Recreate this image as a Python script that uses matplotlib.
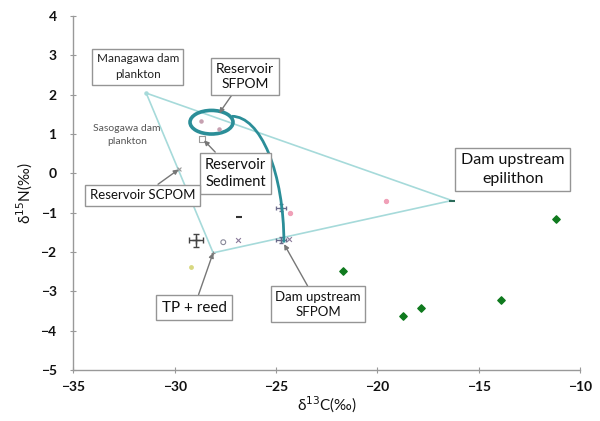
import matplotlib
matplotlib.use("Agg")
import matplotlib.pyplot as plt
from matplotlib.patches import Ellipse, Arc

plt.rcParams['font.family'] = ['Lato', 'DejaVu Sans']

# --- isotope data (d13C, d15N) ---
epilithon_x = [-11.2, -13.9, -17.85, -18.75, -21.7]
epilithon_y = [-1.15, -3.22, -3.42, -3.62, -2.48]

sfpom_res_x = [-28.7, -27.8]
sfpom_res_y = [1.32, 1.14]

sediment_x = [-28.65]
sediment_y = [0.87]

scpom_x = [-29.8]
scpom_y = [0.1]

managawa_x = [-31.4]
managawa_y = [2.04]

epil_mean_x = [-16.33]
epil_mean_y = [-0.69]

pink_x = [-19.6, -24.3]
pink_y = [-0.69, -1.0]

tp_reed_x = [-28.1]
tp_reed_y = [-2.02]

cross_x = [-28.95]
cross_y = [-1.7]
cross_xerr = [0.35]
cross_yerr = [0.17]

circle_x = [-27.6]
circle_y = [-1.75]

xmark_x = [-26.85, -24.35]
xmark_y = [-1.7, -1.68]

dash_x = [-26.8]
dash_y = [-1.1]

yellow_x = [-29.2]
yellow_y = [-2.37]

dam_sfpom_x = [-24.75, -24.75]
dam_sfpom_y = [-0.87, -1.7]
dam_sfpom_xerr = [0.25, 0.25]
dam_sfpom_yerr = [0.08, 0.08]

# mixing triangle vertices
tri_x = [-31.4, -16.33, -28.1, -31.4]
tri_y = [2.04, -0.69, -2.02, 2.04]

fig = plt.figure(figsize=(6.0, 4.21), dpi=100)
ax = fig.add_axes([0.122, 0.121, 0.845, 0.841])

ax.plot(tri_x, tri_y, color='#a6dada', lw=1.2, zorder=2)

ax.scatter(epilithon_x, epilithon_y, marker='D', s=14, color='#0f7a1e', zorder=6)
ax.scatter(sfpom_res_x, sfpom_res_y, marker='o', s=5, color='#c6a0b0', zorder=6)
ax.scatter(sediment_x, sediment_y, marker='s', s=16, facecolor='none', edgecolor='#999999', lw=0.8, zorder=4)
ax.scatter(scpom_x, scpom_y, marker='x', s=8, color='#9a9a9a', lw=0.8, zorder=4)
ax.scatter(managawa_x, managawa_y, marker='o', s=5, color='#a6dada', zorder=4)
ax.scatter(epil_mean_x, epil_mean_y, marker='_', s=20, color='#2b6b5a', lw=1.5, zorder=4)
ax.scatter(pink_x, pink_y, marker='o', s=8, color='#f0a0b8', zorder=4)
ax.scatter(tp_reed_x, tp_reed_y, marker='+', s=10, color='#888888', lw=0.8, zorder=4)
ax.errorbar(cross_x, cross_y, xerr=cross_xerr, yerr=cross_yerr, fmt='+', ms=6,
            color='#444444', elinewidth=1.0, capsize=2, zorder=4)
ax.scatter(circle_x, circle_y, marker='o', s=12, facecolor='none', edgecolor='#8a8a9a', lw=0.8, zorder=4)
ax.scatter(xmark_x, xmark_y, marker='x', s=12, color='#8a7a9a', lw=0.8, zorder=4)
ax.scatter(dash_x, dash_y, marker='_', s=20, color='#333333', lw=1.5, zorder=4)
ax.scatter(yellow_x, yellow_y, marker='o', s=6, color='#d8d880', zorder=4)
ax.errorbar(dam_sfpom_x, dam_sfpom_y, xerr=dam_sfpom_xerr, yerr=dam_sfpom_yerr, fmt='+', ms=4,
            color='#6a6a8a', elinewidth=0.8, capsize=1.5, zorder=4)

# reservoir SFPOM cluster and its link to the dam upstream SFPOM
teal = '#2b8e98'
ax.add_patch(Ellipse((-28.18, 1.3), 2.12, 0.6, fill=False, edgecolor=teal, lw=2.6, zorder=5))
ax.add_patch(Arc((-27.17, -1.76), 2 * 2.56, 2 * 3.21, theta1=0, theta2=90,
                 edgecolor=teal, lw=2.0, zorder=5))

box = dict(boxstyle='square,pad=0.35', facecolor='white', edgecolor='#959595', lw=1.0)
arrow = dict(arrowstyle='-|>', color='#777777', lw=1.0, mutation_scale=7, shrinkA=0, shrinkB=0)

ax.text(-31.82, 2.71, 'Managawa dam\nplankton', ha='center', va='center', fontsize=8.5,
        color='#222222', bbox=box, linespacing=1.6, zorder=7)
ax.annotate('Reservoir\nSFPOM', xy=(-27.8, 1.53), xytext=(-26.53, 2.47), ha='center', va='center',
            fontsize=10, color='#111111', bbox=box, arrowprops=arrow, linespacing=1.3, zorder=7)
ax.text(-32.34, 0.97, 'Sasogawa dam\nplankton', ha='center', va='center', fontsize=7.5,
        color='#555555', linespacing=1.6, zorder=7)
ax.annotate('Reservoir\nSediment', xy=(-28.55, 0.84), xytext=(-27.0, 0.0), ha='center', va='center',
            fontsize=10.5, color='#111111', bbox=box, arrowprops=arrow, linespacing=1.3, zorder=7)
ax.annotate('Reservoir SCPOM', xy=(-29.8, 0.1), xytext=(-31.58, -0.56), ha='center', va='center',
            fontsize=9.5, color='#111111', bbox=box, arrowprops=arrow, zorder=7)
ax.annotate('TP + reed', xy=(-28.1, -2.02), xytext=(-29.04, -3.41), ha='center', va='center',
            fontsize=11, color='#111111', bbox=box, arrowprops=arrow, zorder=7)
ax.annotate('Dam upstream\nSFPOM', xy=(-24.6, -1.8), xytext=(-22.93, -3.33), ha='center', va='center',
            fontsize=9.5, color='#111111', bbox=box, arrowprops=arrow, linespacing=1.3, zorder=7)
ax.text(-13.33, 0.1, 'Dam upstream\nepilithon', ha='center', va='center', fontsize=11.5,
        color='#111111', bbox=box, linespacing=1.4, zorder=7)

ax.set_xlim(-35, -10)
ax.set_ylim(-5, 4)
ax.set_xticks([-35, -30, -25, -20, -15, -10])
ax.set_yticks(range(-5, 5))
for side in ('top', 'right'):
    ax.spines[side].set_visible(False)
for side in ('left', 'bottom'):
    ax.spines[side].set_color('#999999')
    ax.spines[side].set_linewidth(1.0)
ax.tick_params(axis='both', direction='inout', length=4, color='#999999', labelsize=10,
               labelcolor='#111111')
ax.tick_params(axis='y', pad=10)
ax.tick_params(axis='x', pad=6)
for lab in ax.get_xticklabels() + ax.get_yticklabels():
    lab.set_fontweight('bold')

ax.set_xlabel('δ$^{13}$C(‰)', fontsize=11, labelpad=1, color='#111111')
ax.set_ylabel('δ$^{15}$N(‰)', fontsize=11, labelpad=4, color='#111111')

fig.savefig('out.png', dpi=100)
